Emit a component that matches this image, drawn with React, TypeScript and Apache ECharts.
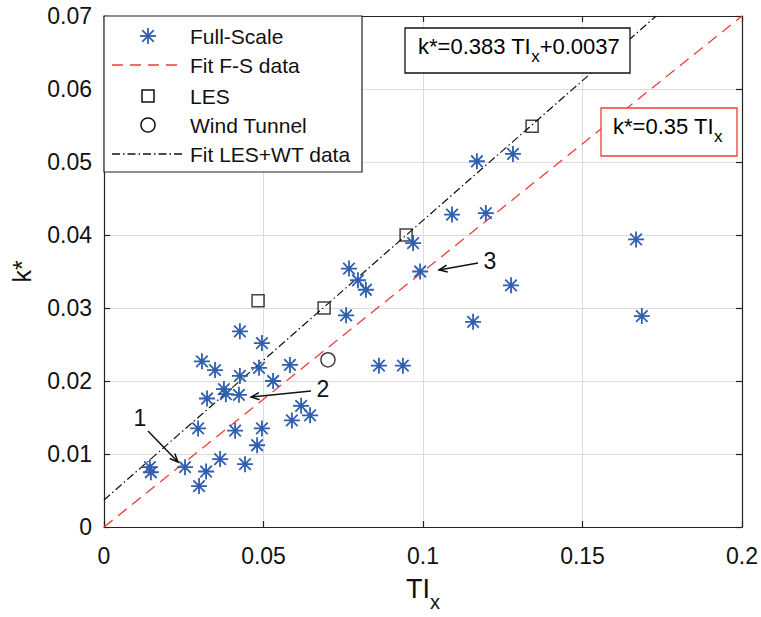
import React, { useEffect, useRef } from "react";
import * as echarts from "echarts";

// Full-scale data (TI_x, k*)
const FS_TI = [
  0.0144, 0.0147, 0.0254, 0.032, 0.0298, 0.0364, 0.0442, 0.0295, 0.0411, 0.0495,
  0.048, 0.0323, 0.0376, 0.0382, 0.0423, 0.0426, 0.0307, 0.0348, 0.0486, 0.053,
  0.0426, 0.0495, 0.0583, 0.0618, 0.0589, 0.0646, 0.0768, 0.0796, 0.0821, 0.0759,
  0.0969, 0.0991, 0.0862, 0.0937, 0.1157, 0.1276, 0.1169, 0.1282, 0.1091, 0.1197,
  0.1668, 0.1686,
];
const FS_K = [
  0.0082, 0.0075, 0.0082, 0.0076, 0.0056, 0.0093, 0.0086, 0.0135, 0.0132, 0.0135,
  0.0112, 0.0176, 0.0189, 0.0182, 0.0181, 0.0207, 0.0227, 0.0215, 0.0218, 0.02,
  0.0268, 0.0252, 0.0222, 0.0166, 0.0146, 0.0153, 0.0354, 0.0338, 0.0325, 0.029,
  0.0389, 0.035, 0.0221, 0.0221, 0.0281, 0.0331, 0.0501, 0.0511, 0.0428, 0.043,
  0.0394, 0.0289,
];
const LES_TI = [0.0483, 0.069, 0.0947, 0.1342];
const LES_K = [0.031, 0.03, 0.04, 0.0549];
const WT_TI = [0.0702];
const WT_K = [0.0229];

// Fits
const FS_SLOPE = 0.35;
const LW_SLOPE = 0.383;
const LW_INTERCEPT = 0.0037;

const Y_MAX = 0.07;
const X_MAX = 0.2;

const BLUE = "#2f5fae";
const RED = "#f23a3a";
const FONT = "Liberation Sans";

const ASTERISK =
  "path://M0,-1L0,1M-1,0L1,0M-0.72,-0.72L0.72,0.72M0.72,-0.72L-0.72,0.72";

export default function App() {
  const ref = useRef<HTMLDivElement>(null);
  useEffect(() => {
    if (!ref.current) return;
    const chart = echarts.init(ref.current, null, { renderer: "svg" });

    const fsData = FS_TI.map((x, i) => [x, FS_K[i]]);
    const lesData = LES_TI.map((x, i) => [x, LES_K[i]]);
    const wtData = WT_TI.map((x, i) => [x, WT_K[i]]);
    const fsFit = [
      [0, 0],
      [X_MAX, FS_SLOPE * X_MAX],
    ];
    const lwEndX = (Y_MAX - LW_INTERCEPT) / LW_SLOPE;
    const lwFit = [
      [0, LW_INTERCEPT],
      [lwEndX, LW_SLOPE * lwEndX + LW_INTERCEPT],
    ];

    const axisCommon = {
      min: 0,
      axisLine: { show: true, onZero: false, lineStyle: { color: "#222", width: 1.2 } },
      axisTick: { show: true, inside: true, length: 6, lineStyle: { color: "#222", width: 1.2 } },
    };

    const subRich = (size: number, sub: number, drop: number) => ({
      a: { fontSize: size, fontFamily: FONT, color: "#111", verticalAlign: "top", lineHeight: size + 4 },
      b: {
        fontSize: sub,
        fontFamily: FONT,
        color: "#111",
        verticalAlign: "top",
        lineHeight: sub + 2,
        padding: [drop, 0, 0, 0],
      },
    });

    const legendX = 104;
    const legendY = 16;
    const rows = [36, 65, 96, 125, 154];
    const symX = 148;
    const labels = ["Full-Scale", "Fit F-S data", "LES", "Wind Tunnel", "Fit LES+WT data"];
    const a = 8;
    const d = 5.8;

    const graphic: any[] = [
      {
        type: "rect",
        z: 100,
        shape: { x: legendX, y: legendY, width: 258, height: 156 },
        style: { fill: "#fff", stroke: "#222", lineWidth: 1.2 },
      },
      ...[
        [0, -a, 0, a],
        [-a, 0, a, 0],
        [-d, -d, d, d],
        [d, -d, -d, d],
      ].map((s) => ({
        type: "line",
        z: 101,
        shape: { x1: symX + s[0], y1: rows[0] + s[1], x2: symX + s[2], y2: rows[0] + s[3] },
        style: { stroke: BLUE, lineWidth: 1.8 },
      })),
      {
        type: "line",
        z: 101,
        shape: { x1: 112, y1: rows[1], x2: 184, y2: rows[1] },
        style: { stroke: RED, lineWidth: 1.3, lineDash: [11, 7] },
      },
      {
        type: "rect",
        z: 101,
        shape: { x: symX - 6, y: rows[2] - 6, width: 12, height: 12 },
        style: { fill: "none", stroke: "#111", lineWidth: 1.5 },
      },
      {
        type: "circle",
        z: 101,
        shape: { cx: symX, cy: rows[3], r: 7 },
        style: { fill: "none", stroke: "#111", lineWidth: 1.5 },
      },
      {
        type: "line",
        z: 101,
        shape: { x1: 112, y1: rows[4], x2: 184, y2: rows[4] },
        style: { stroke: "#111", lineWidth: 1.3, lineDash: [8, 3, 1.5, 3] },
      },
      ...labels.map((t, i) => ({
        type: "text",
        z: 101,
        x: 190,
        y: rows[i],
        style: { text: t, fontSize: 21, fontFamily: FONT, fill: "#111", verticalAlign: "middle" },
      })),
      {
        type: "rect",
        z: 100,
        shape: { x: 405, y: 28, width: 225, height: 45 },
        style: { fill: "#fff", stroke: "#111", lineWidth: 1.3 },
      },
      {
        type: "text",
        z: 101,
        x: 418,
        y: 35,
        style: {
          text: "{a|k*=0.383 TI}{b|x}{a|+0.0037}",
          rich: subRich(22, 17, 13),
        },
      },
      {
        type: "rect",
        z: 100,
        shape: { x: 601, y: 108, width: 136, height: 48 },
        style: { fill: "#fff", stroke: RED, lineWidth: 1.3 },
      },
      {
        type: "text",
        z: 101,
        x: 613,
        y: 115,
        style: {
          text: "{a|k*=0.35 TI}{b|x}",
          rich: subRich(22, 17, 13),
        },
      },
      ...[
        { t: "1", tx: 140, ty: 418, x1: 148, y1: 431, x2: 178, y2: 462 },
        { t: "2", tx: 323, ty: 389, x1: 311, y1: 391, x2: 251, y2: 397 },
        { t: "3", tx: 490, ty: 261, x1: 478, y1: 263, x2: 439, y2: 270 },
      ].flatMap((ar) => {
        const ang = Math.atan2(ar.y2 - ar.y1, ar.x2 - ar.x1);
        const L = 9;
        const w = 0.4;
        const p1 = [ar.x2 - L * Math.cos(ang - w), ar.y2 - L * Math.sin(ang - w)];
        const p2 = [ar.x2 - L * Math.cos(ang + w), ar.y2 - L * Math.sin(ang + w)];
        return [
          {
            type: "line",
            z: 90,
            shape: { x1: ar.x1, y1: ar.y1, x2: ar.x2, y2: ar.y2 },
            style: { stroke: "#111", lineWidth: 1.5 },
          },
          {
            type: "polyline",
            z: 90,
            shape: { points: [p1, [ar.x2, ar.y2], p2] },
            style: { stroke: "#111", lineWidth: 1.5, fill: "none" },
          },
          {
            type: "text",
            z: 90,
            x: ar.tx,
            y: ar.ty,
            style: {
              text: ar.t,
              fontSize: 23,
              fontFamily: FONT,
              fill: "#111",
              align: "center",
              verticalAlign: "middle",
            },
          },
        ];
      }),
    ];

    chart.setOption({
      animation: false,
      backgroundColor: "#fff",
      grid: { left: 104, top: 16, width: 638, height: 514, containLabel: false },
      xAxis: [
        {
          ...axisCommon,
          type: "value",
          max: X_MAX,
          interval: 0.05,
          position: "bottom",
          splitLine: { show: true, lineStyle: { color: "#dcdcdc", width: 1 } },
          axisLabel: {
            fontSize: 23,
            fontFamily: FONT,
            color: "#111",
            margin: 17,
            formatter: (v: number) => String(+v.toFixed(2)),
          },
          name: "{a|TI}{b|x}",
          nameLocation: "middle",
          nameGap: 48,
          nameTextStyle: { rich: subRich(27, 20, 17) },
        },
        {
          ...axisCommon,
          type: "value",
          max: X_MAX,
          interval: 0.05,
          position: "top",
          splitLine: { show: false },
          axisLabel: { show: false },
        },
      ],
      yAxis: [
        {
          ...axisCommon,
          type: "value",
          max: Y_MAX,
          interval: 0.01,
          position: "left",
          splitLine: { show: true, lineStyle: { color: "#dcdcdc", width: 1 } },
          axisLabel: {
            fontSize: 23,
            fontFamily: FONT,
            color: "#111",
            margin: 12,
            formatter: (v: number) => String(+v.toFixed(2)),
          },
          name: "k*",
          nameLocation: "middle",
          nameRotate: 90,
          nameGap: 70,
          nameTextStyle: { fontSize: 25, fontFamily: FONT, color: "#111" },
        },
        {
          ...axisCommon,
          type: "value",
          max: Y_MAX,
          interval: 0.01,
          position: "right",
          splitLine: { show: false },
          axisLabel: { show: false },
        },
      ],
      series: [
        {
          name: "Fit F-S data",
          type: "line",
          data: fsFit,
          showSymbol: false,
          symbol: "none",
          lineStyle: { color: RED, width: 1.3, type: [11, 7] },
          z: 3,
          silent: true,
        },
        {
          name: "Fit LES+WT data",
          type: "line",
          data: lwFit,
          showSymbol: false,
          symbol: "none",
          lineStyle: { color: "#111", width: 1.2, type: [8, 3, 1.5, 3] },
          z: 3,
          silent: true,
        },
        {
          name: "Full-Scale",
          type: "scatter",
          data: fsData,
          symbol: ASTERISK,
          symbolSize: 16,
          itemStyle: { color: "none", borderColor: BLUE, borderWidth: 1.8, opacity: 1 },
          z: 5,
        },
        {
          name: "LES",
          type: "scatter",
          data: lesData,
          symbol: "rect",
          symbolSize: 12,
          itemStyle: { color: "none", borderColor: "#111", borderWidth: 1.5 },
          z: 4,
        },
        {
          name: "Wind Tunnel",
          type: "scatter",
          data: wtData,
          symbol: "circle",
          symbolSize: 14,
          itemStyle: { color: "none", borderColor: "#111", borderWidth: 1.5 },
          z: 4,
        },
      ],
      graphic,
    });
    return () => chart.dispose();
  }, []);

  return (
    <div
      ref={ref}
      style={{ position: "fixed", left: 0, top: 0, width: 761, height: 617, background: "#fff" }}
    />
  );
}
